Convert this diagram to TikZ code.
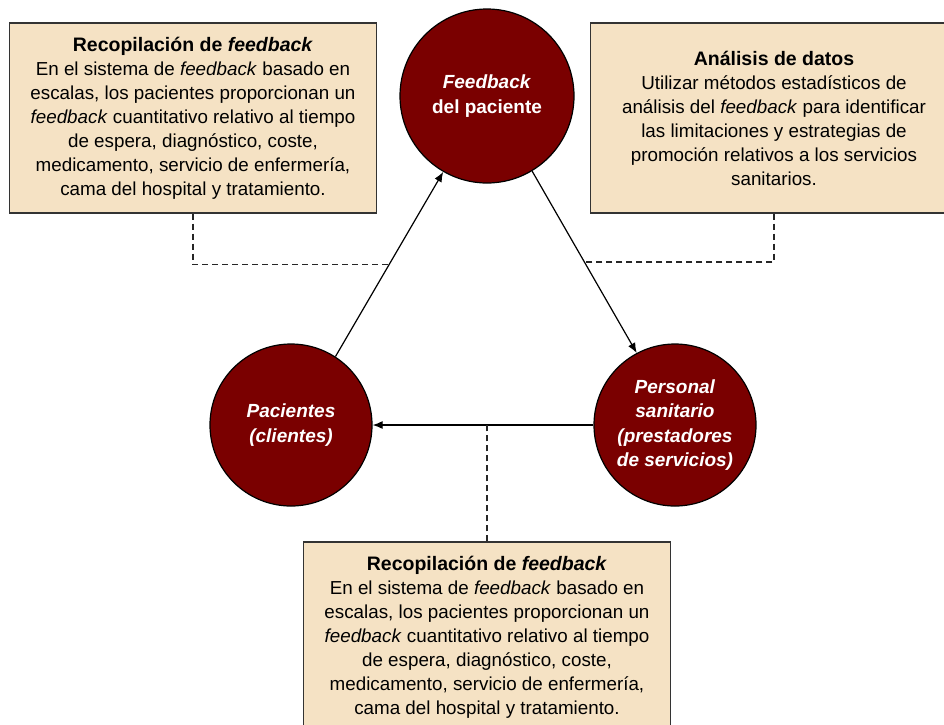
\documentclass[tikz,border=0pt]{standalone}
\usepackage{fontspec}
\setmainfont{Liberation Sans}
\usetikzlibrary{arrows.meta,calc}
\definecolor{granate}{RGB}{122,0,0}
\definecolor{crema}{RGB}{245,226,196}
\newcommand{\titulo}[1]{{\fontsize{19.5}{24}\selectfont\bfseries #1}}

\begin{document}
\begin{tikzpicture}[x=1pt,y=1pt]
\tikzstyle{every node}+=[inner sep=0pt]
\tikzstyle{circulo}=[circle, draw=black, line width=1.2pt, fill=granate, text=white,
  align=center, font=\fontsize{19}{24.2}\selectfont\bfseries]
\tikzstyle{caja}=[rectangle, draw=black!80, line width=1.4pt, fill=crema, align=center,
  minimum width=367, minimum height=190, font=\fontsize{18.8}{24}\selectfont]
\tikzstyle{flecha}=[-{Latex[length=10pt,width=8pt]}, line width=1.2pt]
\tikzstyle{guion}=[line width=1.2pt, dash pattern=on 6pt off 4pt, black!85]
\useasboundingbox (0,0) rectangle (944,-724);
% cajas de texto
\node[caja] (tl) at (193,-118) {\titulo{Recopilación de \textit{feedback}}\\
  En el sistema de \textit{feedback} basado en\\escalas, los pacientes proporcionan un\\
  \textit{feedback} cuantitativo relativo al tiempo\\de espera, diagnóstico, coste,\\
  medicamento, servicio de enfermería,\\cama del hospital y tratamiento.};
\node[caja] (tr) at (774,-118) {\titulo{Análisis de datos}\\
  Utilizar métodos estadísticos de\\análisis del \textit{feedback} para identificar\\
  las limitaciones y estrategias de\\promoción relativos a los servicios\\sanitarios.};
\node[caja] (bl) at (487,-637) {\titulo{Recopilación de \textit{feedback}}\\
  En el sistema de \textit{feedback} basado en\\escalas, los pacientes proporcionan un\\
  \textit{feedback} cuantitativo relativo al tiempo\\de espera, diagnóstico, coste,\\
  medicamento, servicio de enfermería,\\cama del hospital y tratamiento.};
% circulos
\node[circulo, minimum size=174] (fb) at (487,-96) {\textit{Feedback}\\del paciente};
\node[circulo, minimum size=162] (pac) at (291,-425) {\textit{Pacientes}\\\textit{(clientes)}};
\node[circulo, minimum size=162] (per) at (675,-425) {\textit{Personal}\\\textit{sanitario}\\
  \textit{(prestadores}\\\textit{de servicios)}};
% flechas
\draw[flecha] (pac.57) -- (fb.240);
\draw[flecha] (fb.-59) -- (per.118);
\draw[flecha] (per.west) -- (pac.east);
% lineas discontinuas
\coordinate (jl) at ($(pac.57)!.5!(fb.240)$);
\coordinate (jr) at ($(fb.-59)!.5!(per.118)$);
\draw[guion] (tl.south) |- (jl);
\draw[guion] (tr.south) |- (jr);
\draw[guion] (bl.north) -- (bl.north |- per.west);
\end{tikzpicture}
\end{document}
